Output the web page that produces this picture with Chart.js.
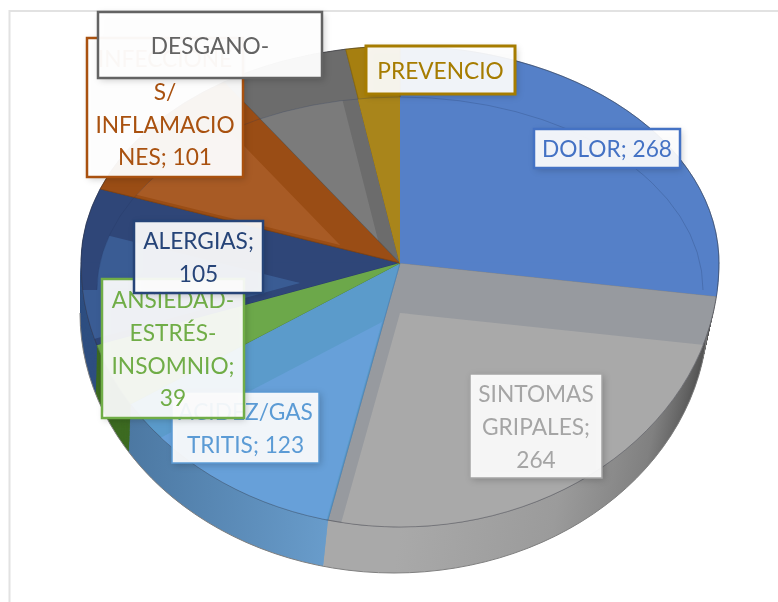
<!DOCTYPE html>
<html>
<head>
<meta charset="utf-8">
<style>
html, body { margin: 0; padding: 0; background: #fff; }
canvas { display: block; }
</style>
<script src="https://cdn.jsdelivr.net/npm/chart.js@4/dist/chart.umd.min.js"></script>
</head>
<body>
<canvas id="chart" width="778" height="602"></canvas>
<script>
// categories and values (last two values are estimated, their labels are cut off)
var categories = ['DOLOR', 'SINTOMAS GRIPALES', 'ACIDEZ/GASTRITIS', 'ANSIEDAD-ESTRÉS-INSOMNIO', 'ALERGIAS', 'INFECCIONES/INFLAMACIONES', 'DESGANO-', 'PREVENCIO'];
var values = [268, 264, 123, 39, 105, 101, 65, 27];
var labelLines = [
    ['DOLOR; 268'],
    ['SINTOMAS', 'GRIPALES;', '264'],
    ['ACIDEZ/GAS', 'TRITIS; 123'],
    ['ANSIEDAD-', 'ESTRÉS-', 'INSOMNIO;', '39'],
    ['ALERGIAS;', '105'],
    ['INFECCIONE', 'S/', 'INFLAMACIO', 'NES; 101'],
    ['DESGANO-'],
    ['PREVENCIO']
];

// colours per slice
var bandColors = ['#5580c8', '#979a9f', '#5b9bcb', '#6ca84a', '#2f4678', '#9a4d15', '#6c6c6c', '#a67f10'];
var faceColors = ['#5580c8', '#a9a9a9', '#67a0d9', '#6ca84a', '#3a5c94', '#a85b25', '#7b7b7b', '#a9851b'];
var wallColors = ['#3f62a0', '#a0a0a0', '#6398c8', '#3d6b22', '#2f4f80', '#7a3c10', '#555555', '#80610c'];
var edgeColors = ['#46699f', '#85878a', '#4f86b8', '#5a8f3c', '#2a3f6c', '#7f4312', '#5c5c5c', '#8b6a0d'];
var textColors = ['#4472c4', '#a5a5a5', '#5b9bd5', '#70ad47', '#264478', '#a9510f', '#636363', '#a67c00'];

// pixel layout of the tilted pie
var pie = { x: 400, y: 263, rx: 319, ryTop: 217, ryBottom: 264 };
var wall = { x: 394, y: 313, rx: 314, ry: 260 };
var innerFace = { x: 400, y: 290, rx: 303, ryTop: 193 };
var faceApex = [[400, 263], [400, 313], [382, 322], [400, 263], [300, 283], [340, 245], [378, 240], [400, 265]];
var labelBoxes = [
    [534, 129, 146, 39], [470, 374, 132, 104], [172, 392, 147, 71], [102, 279, 142, 139],
    [134, 221, 129, 72], [87, 38, 156, 139], [98, 12, 224, 66], [366, 46, 149, 48]
];
var labelAlpha = [0.92, 0.92, 0.92, 0.92, 0.92, 0.95, 0.96, 0.92];
var labelBorder = [2.5, 1.5, 1.5, 2.5, 2.5, 2.5, 2.5, 3];
var labelFont = '22.7px Lato';
var lineHeight = 32.7;

function outerPath(ctx) {
    ctx.beginPath();
    ctx.ellipse(pie.x, pie.y, pie.rx, pie.ryTop, 0, Math.PI, 2 * Math.PI);
    ctx.ellipse(pie.x, pie.y, pie.rx, pie.ryBottom, 0, 0, Math.PI);
    ctx.closePath();
}

function innerPath(ctx) {
    ctx.beginPath();
    ctx.ellipse(innerFace.x, innerFace.y, innerFace.rx, innerFace.ryTop, 0, Math.PI, 2 * Math.PI);
    ctx.lineTo(760, innerFace.y);
    ctx.lineTo(760, 602);
    ctx.lineTo(40, 602);
    ctx.lineTo(40, innerFace.y);
    ctx.closePath();
}

// draws the library's arc once with other colours, squashed around (x, y)
function drawArc(ctx, arc, place, fill, border, borderWidth) {
    var saved = arc.options;
    arc.options = Object.assign({}, saved, { backgroundColor: fill, borderColor: border, borderWidth: borderWidth });
    var halves = [[0, place.y + 0.5, place.syTop], [place.y - 0.5, 602, place.syBottom]];
    halves.forEach(function(h) {
        ctx.save();
        ctx.beginPath();
        ctx.rect(0, h[0], 778, h[1] - h[0]);
        ctx.clip();
        ctx.translate(place.x, place.y);
        ctx.scale(place.sx, h[2]);
        ctx.translate(-arc.x, -arc.y);
        arc.draw(ctx);
        ctx.restore();
    });
    arc.options = saved;
}

var tiltedPie = {
    id: 'tiltedPie',
    beforeDatasetDraw: function(chart, args) {
        var ctx = chart.ctx;
        var arcs = args.meta.data;
        var syTop = pie.ryTop / pie.rx;
        var syBottom = pie.ryBottom / pie.rx;

        var grayWall = ctx.createLinearGradient(arcs[0].x, 0, arcs[0].x + pie.rx, 0);
        grayWall.addColorStop(0, '#a9a9a9');
        grayWall.addColorStop(0.5, '#9b9b9b');
        grayWall.addColorStop(0.8, '#808080');
        grayWall.addColorStop(1, '#4a4a4a');
        var blueWall = ctx.createLinearGradient(arcs[0].x - pie.rx, 0, arcs[0].x - 60, 0);
        blueWall.addColorStop(0, '#456f98');
        blueWall.addColorStop(1, '#6a9ecd');

        // side wall, the slices stacked from the bottom rim up to the top face
        var steps = 50;
        for (var s = steps; s > 0; s--) {
            var t = s / steps;
            var place = {
                x: pie.x + (wall.x - pie.x) * t,
                y: pie.y + (wall.y - pie.y) * t,
                sx: (pie.rx + (wall.rx - pie.rx) * t) / pie.rx,
                syTop: (pie.ryTop + (wall.ry - pie.ryTop) * t) / pie.rx,
                syBottom: (pie.ryBottom + (wall.ry - pie.ryBottom) * t) / pie.rx
            };
            arcs.forEach(function(arc, i) {
                var fill = i === 1 ? grayWall : i === 2 ? blueWall : wallColors[i];
                drawArc(ctx, arc, place, fill, 'transparent', 0);
            });
        }
        ctx.save();
        ctx.strokeStyle = '#7f7f7f';
        ctx.beginPath();
        ctx.ellipse(wall.x, wall.y, wall.rx, wall.ry, 0, 0, Math.PI);
        ctx.stroke();
        ctx.restore();

        // bevel band, the slices at full size
        arcs.forEach(function(arc, i) {
            drawArc(ctx, arc, { x: pie.x, y: pie.y, sx: 1, syTop: syTop, syBottom: syBottom }, bandColors[i], edgeColors[i], 1);
        });

        // inner face, same slices pushed to their own apex
        arcs.forEach(function(arc, i) {
            ctx.save();
            outerPath(ctx);
            ctx.clip();
            innerPath(ctx);
            ctx.clip();
            var r = arc.outerRadius;
            arc.outerRadius = r * 1.6;
            drawArc(ctx, arc, { x: faceApex[i][0], y: faceApex[i][1], sx: 1, syTop: syTop, syBottom: syBottom }, faceColors[i], 'transparent', 0);
            arc.outerRadius = r;
            ctx.restore();
        });

        ctx.save();
        ctx.strokeStyle = 'rgba(30,50,90,0.22)';
        ctx.beginPath();
        ctx.ellipse(innerFace.x, innerFace.y, innerFace.rx, innerFace.ryTop, 0, Math.PI, 2 * Math.PI);
        ctx.stroke();
        ctx.strokeStyle = 'rgba(60,60,70,0.4)';
        outerPath(ctx);
        ctx.stroke();
        ctx.restore();
        return false;
    },
    afterDraw: function(chart) {
        var ctx = chart.ctx;
        ctx.save();
        ctx.font = labelFont;
        ctx.textAlign = 'center';
        ctx.textBaseline = 'middle';
        labelLines.forEach(function(lines, i) {
            var b = labelBoxes[i];
            ctx.save();
            ctx.shadowColor = 'rgba(0,0,0,0.22)';
            ctx.shadowBlur = 7;
            ctx.shadowOffsetX = 2;
            ctx.shadowOffsetY = 2;
            ctx.fillStyle = 'rgba(255,255,255,' + labelAlpha[i] + ')';
            ctx.fillRect(b[0], b[1], b[2], b[3]);
            ctx.restore();
            ctx.strokeStyle = textColors[i];
            ctx.lineWidth = labelBorder[i];
            ctx.strokeRect(b[0], b[1], b[2], b[3]);
            ctx.fillStyle = textColors[i];
            var mid = b[1] + b[3] / 2 + 1.5;
            lines.forEach(function(line, k) {
                ctx.fillText(line, b[0] + b[2] / 2, mid + (k - (lines.length - 1) / 2) * lineHeight);
            });
        });
        ctx.restore();
    }
};

// frame of the chart area, only top and left show in the picture
var frame = {
    id: 'frame',
    beforeDraw: function(chart) {
        var ctx = chart.ctx;
        ctx.save();
        ctx.strokeStyle = '#e2e2e2';
        ctx.lineWidth = 2;
        ctx.beginPath();
        ctx.moveTo(9.5, 602);
        ctx.lineTo(9.5, 11);
        ctx.lineTo(778, 11);
        ctx.stroke();
        ctx.restore();
    }
};

new Chart(document.getElementById('chart').getContext('2d'), {
    type: 'pie',
    data: {
        labels: categories,
        datasets: [{ data: values, backgroundColor: faceColors, borderWidth: 0 }]
    },
    options: {
        responsive: false,
        animation: false,
        radius: pie.rx,
        layout: { padding: { left: 22, right: 0, top: 0, bottom: 76 } },
        plugins: { legend: { display: false }, tooltip: { enabled: false } }
    },
    plugins: [frame, tiltedPie]
});
</script>
</body>
</html>
